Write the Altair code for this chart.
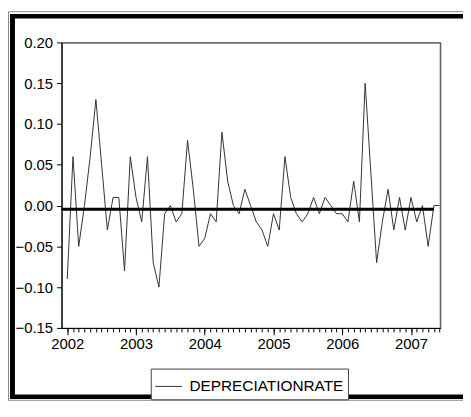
import altair as alt
import pandas as pd

# ---- data (monthly, 2002M1 .. 2007M6) ----
year_labels = ["2002", "2003", "2004", "2005", "2006", "2007"]
series_name = "DEPRECIATIONRATE"
rate_values = [
    -0.09, 0.06, -0.05, 0.00, 0.06, 0.13, 0.05, -0.03, 0.01, 0.01, -0.08, 0.06,   # 2002
    0.01, -0.02, 0.06, -0.07, -0.10, -0.01, 0.00, -0.02, -0.01, 0.08, 0.02, -0.05,  # 2003
    -0.04, -0.01, -0.02, 0.09, 0.03, 0.00, -0.01, 0.02, 0.00, -0.02, -0.03, -0.05,  # 2004
    -0.01, -0.03, 0.06, 0.01, -0.01, -0.02, -0.01, 0.01, -0.01, 0.01, 0.00, -0.01,  # 2005
    -0.01, -0.02, 0.03, -0.02, 0.15, 0.04, -0.07, -0.02, 0.02, -0.03, 0.01, -0.03,  # 2006
    0.01, -0.02, 0.00, -0.05, 0.00, 0.00,                                          # 2007
]
ref_level = -0.0045          # thick horizontal reference line
ref_start_month = -1
ref_end_month = 64
y_tick_values = [-0.15, -0.10, -0.05, 0.00, 0.05, 0.10, 0.15, 0.20]
major_tick_months = [0, 12, 24, 36, 48, 60]
minor_tick_months = list(range(0, 66))

df = pd.DataFrame({
    "t": list(range(len(rate_values))),
    "v": rate_values,
    "s": [series_name] * len(rate_values),
})
ref_df = pd.DataFrame({"t": [ref_start_month], "t2": [ref_end_month], "v": [ref_level]})
one = pd.DataFrame({"k": [0]})

W, H = 382, 288
FONT = "Liberation Sans"

x_scale = alt.Scale(domain=[-1, 65.1], nice=False, zero=False)
y_scale = alt.Scale(domain=[-0.15, 0.20], nice=False, zero=False)

labels_js = "[" + ",".join("'%s'" % y for y in year_labels) + "]"
major_axis = alt.Axis(
    orient="bottom", values=major_tick_months, labelExpr=labels_js + "[datum.value / 12]",
    tickSize=7, labelPadding=2, grid=False, domain=True, domainColor="black",
    tickColor="black", labelFont=FONT, labelFontSize=15, labelColor="black",
)
minor_axis = alt.Axis(
    orient="bottom", values=minor_tick_months, labels=False, domain=False,
    tickSize=4, tickColor="black", grid=False,
)
y_axis = alt.Axis(
    values=y_tick_values, format=".2f", tickSize=5, labelPadding=4, grid=False,
    domainColor="black", tickColor="black", labelFont=FONT, labelFontSize=15,
    labelColor="black",
)

line = alt.Chart(df).mark_line(strokeWidth=1).encode(
    x=alt.X("t:Q", scale=x_scale, axis=major_axis, title=None),
    y=alt.Y("v:Q", scale=y_scale, axis=y_axis, title=None),
    color=alt.Color(
        "s:N", scale=alt.Scale(range=["#333333"]),
        legend=alt.Legend(
            title=None, orient="none", legendX=90, legendY=329,
            symbolType="stroke", symbolSize=729, symbolStrokeWidth=1,
            labelFont=FONT, labelFontSize=15.5, labelColor="black", labelOffset=7,
            strokeColor="#444444", fillColor="white", padding=4, cornerRadius=0,
        ),
    ),
)

ref = alt.Chart(ref_df).mark_rule(strokeWidth=3, color="black").encode(
    x=alt.X("t:Q", scale=x_scale, axis=minor_axis, title=None),
    x2="t2:Q",
    y=alt.Y("v:Q", scale=y_scale, axis=y_axis, title=None),
)


def frame_rule(x, x2, y, y2, color, width):
    return alt.Chart(one).mark_rule(color=color, strokeWidth=width).encode(
        x=alt.value(x), x2=alt.value(x2), y=alt.value(y), y2=alt.value(y2)
    )


BOT_BAND = 357.5   # kept inside the page so nothing scrolls
frame = [
    # thin outer grey line
    frame_rule(-53.5, -53.5, -31, BOT_BAND + 3.5, "#888888", 1),
    frame_rule(-53.5, 430, -31, -31, "#888888", 1),
    frame_rule(-53.5, 430, BOT_BAND + 3.5, BOT_BAND + 3.5, "#888888", 1),
    # thick black band
    frame_rule(-49.5, -49.5, -28.7, BOT_BAND + 2.2, "black", 5),
    frame_rule(-52, 430, -26.5, -26.5, "black", 4.5),
    frame_rule(-52, 430, BOT_BAND, BOT_BAND, "black", 4.5),
    # grey right edge of plot frame
    frame_rule(W, W, 0, H, "#777777", 1),
]

chart = alt.layer(line, ref, *frame).resolve_axis(x="independent").properties(
    width=W, height=H,
    autosize=alt.AutoSizeParams(type="none"),
    padding={"left": 54, "top": 33, "right": 23, "bottom": 74},
    background="white",
).configure_view(stroke="black", strokeWidth=1)

chart.save("out.html", embed_options={"renderer": "svg", "actions": False})
